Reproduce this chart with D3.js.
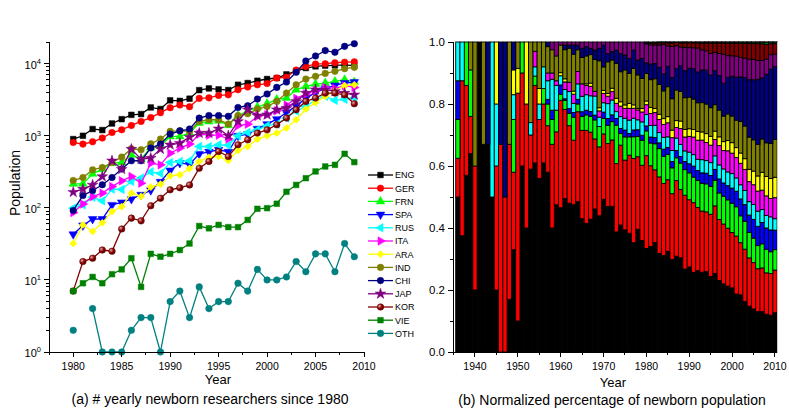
<!DOCTYPE html>
<html><head><meta charset="utf-8">
<script src="https://cdn.jsdelivr.net/npm/d3@7"></script>
<style>
body{margin:0;background:#fff;}
svg text{font-family:"Liberation Sans",Arial,Helvetica,sans-serif;fill:#000;}
</style>
</head><body>
<svg id="c" width="789" height="419" font-family="Liberation Sans, Arial, sans-serif"></svg>
<script>
// ---------- categories ----------
const countries = ["ENG","GER","FRN","SPA","RUS","ITA","ARA","IND","CHI","JAP","KOR","VIE","OTH"];
const colors = ["#000000","#ff0000","#00ff00","#0000ff","#00ffff","#ff00ff","#ffff00","#808000","#000080","#800080","#800000","#008000","#008080"];
const shapes = ["square","circle","triUp","triDown","triLeft","triRight","diamond","circle","circle","star","ball","square","circle"];

// ---------- panel (a): yearly newborn researchers ----------
const yearsA = [1980,1981,1982,1983,1984,1985,1986,1987,1988,1989,1990,1991,1992,1993,1994,1995,1996,1997,1998,1999,2000,2001,2002,2003,2004,2005,2006,2007,2008,2009];
const ENG = [900,1000,1240,1200,1480,1700,1950,2000,2470,2350,3100,3050,3270,4300,4540,4400,4310,5100,5390,5800,6130,6330,7110,7900,8710,9180,9400,9500,9600,9400];
const GER = [807,766,826,930,1110,1210,1390,1580,1790,2090,2450,2670,2530,3300,3360,3630,3700,4360,4740,5100,5300,6330,6490,8160,9180,9860,10000,10300,10500,10600];
const FRN = [215,215,296,344,417,426,545,474,689,726,979,979,1090,1500,1580,1620,1400,1900,2200,2500,2800,3200,3340,4360,4840,5220,5390,5690,6000,5560];
const SPA = [43,57,70,70,110,119,132,152,175,230,330,420,400,560,600,640,600,1000,1050,1250,1450,1700,2100,2600,3300,4000,4500,5000,5400,5560];
const RUS = [99,110,140,125,182,180,232,260,316,300,426,440,450,710,710,750,740,1000,1110,1210,1380,1450,1760,2200,2550,3160,3520,3100,3200,3340];
const ITA = [86,113,143,160,198,237,272,220,417,395,574,674,766,1055,1020,1020,900,1380,1450,1860,1960,2220,2670,3300,3800,4220,4690,4540,4950,4690];
const ARA = [32,58,47,62,89,104,160,144,194,213,278,287,352,440,500,516,454,625,710,900,1000,1090,1280,1670,2350,2900,3520,4220,4950,5100];
const IND = [240,263,337,363,426,506,661,640,774,900,1150,1170,1150,1580,1670,1670,1450,1910,2020,2350,2550,3000,3910,5100,6120,6670,7340,7830,8530,8900];
const CHI = [92,148,174,209,263,345,450,450,675,766,1055,1170,1240,1760,1910,1910,1860,2470,2610,3230,3800,4690,5560,7600,10900,12800,15200,14400,17400,18950];
const JAP = [165,182,208,272,450,344,653,474,490,653,750,790,957,1090,1090,1250,1000,1580,2300,1900,1960,2300,2400,3000,3910,4360,4360,4130,3910,3700];
const KOR = [7,18,20,26,25,51,72,66,107,136,178,190,208,355,440,605,516,750,880,1090,1210,1420,1760,2300,3000,3340,3910,3910,3700,2780];
const VIE = [7,9,11,9,12,14,20,8,23,21,23,26,32,56,52,58,54,54,68,97,99,114,167,208,258,320,375,395,562,431];
const OTH = [2,null,4,1,1,1,2,3,3,1,5,7,3,8,4,5,5,9,7,14,10,10,11,18,13,23,23,13,32,21];
const seriesA = {ENG,GER,FRN,SPA,RUS,ITA,ARA,IND,CHI,JAP,KOR,VIE,OTH};

// ---------- panel (b): shares (%) before 1980, and 2010 ----------
const yearsEarly = [1936,1937,1938,1939,1940,1941,1942,1943,1944,1945,1946,1947,1948,1949,1950,1951,1952,1953,1954,1955,1956,1957,1958,1959,1960,1961,1962,1963,1964,1965,1966,1967,1968,1969,1970,1971,1972,1973,1974,1975,1976,1977,1978,1979];
const shENG = [50,37.5,57,64,20,100,67,67,50,20,0,0,17,33,10,60,40,59,61,56,61,58,40,47.5,47,50,48,48,48.5,43,41.5,42,45,43.5,49,47,47,38.8,41,39.4,38.3,35.3,39.6,36];
const shGER = [12.5,50,29,12,40,0,0,0,0,40,67,50,50,25,73.5,30,40,11,25,19,19,15,27,23.5,35,29,25,21,29,28.5,30,27.5,22,22,21,20.3,21.4,22.1,25.8,22.5,25.2,27.2,23.4,24.3];
const shFRN = [12.5,0,14,15,0,0,0,0,0,0,0,0,0,17,0,10,0,0,3,0,5,7,8,7,2,3,4,7.5,2.5,4.5,5,5,6,6.5,5,5.9,5.9,12.4,3.8,7.5,5.9,7,6.5,8.1];
const shSPA = [12.5,0,0,0,0,0,0,0,0,0,0,0,0,0,0,0,0,0,0,0,0,1.5,3,0,3,0.5,1.5,1.5,1.5,1.5,1.5,1.5,1.5,0,2,2.2,2.2,2.2,1.6,2.2,1.1,2.2,2.2,1.6];
const shRUS = [12.5,12.5,0,0,0,0,0,0,50,20,0,0,0,8,0,0,0,4,3,5,7,6,10,8,3,3,5.5,3,5,5,5,5,6,3,3,4.8,4.8,2.2,3.8,3.8,4.3,3.8,3.2,4.3];
const shITA = [0,0,0,0,0,0,0,0,0,0,0,0,0,0,0,0,0,0,5,0,0,2.5,2,1.5,0,2.5,3,3,4,4,3,3,1.5,2,3,2.4,2.7,2.7,3.4,3.2,3.8,3.2,3.2,3.2];
const shARA = [0,0,0,0,0,0,0,0,0,20,0,0,0,8,8,0,20,0,0,5,0,0,0,0,1,1,0,1,0,0,0.5,1,0,1,1,0.9,1.1,1.6,1.4,1.1,1.6,1.1,0.5,1.1];
const shIND = [0,0,0,9,40,0,33,0,0,0,0,0,33,0,8.5,0,0,26,3,15,8,8.5,7.5,8,9,9.5,11,12,7,8.5,9,9,10,15,7.5,10.2,9.1,11.3,9.7,11.3,9.7,11.8,10.8,9.7];
const shCHI = [0,0,0,0,0,0,0,33,0,0,33,50,0,9,0,0,0,0,0,0,0,1.5,0,0,0,1.5,1,3,1.5,3,3,2,3,4,7,2.7,2.7,4.3,5.9,4.8,4.8,5.9,4.8,6.5];
const shJAP = [0,0,0,0,0,0,0,0,0,0,0,0,0,0,0,0,0,0,0,0,0,0,2.5,4.5,1,1,1,1,1,2,1.5,2,2.5,2,1,3.7,3.1,2.6,3.7,4.2,5.3,2.6,5.8,5.3];
const earlyShares = {ENG:shENG,GER:shGER,FRN:shFRN,SPA:shSPA,RUS:shRUS,ITA:shITA,ARA:shARA,IND:shIND,CHI:shCHI,JAP:shJAP};
const year2010 = 2010;
const share2010 = [12.7,13.8,6.6,6.3,3.7,6.8,6.6,12.3,23.5,4.0,3.4,0.5,0.03];

// ---------- tick labels ----------
const xTicksA = [1980,1985,1990,1995,2000,2005,2010];
const xMinorA = [1977.5,1982.5,1987.5,1992.5,1997.5,2002.5,2007.5];
const yExpA = [0,1,2,3,4];
const xTicksB = [1940,1950,1960,1970,1980,1990,2000,2010];
const xMinorB = [1935,1945,1955,1965,1975,1985,1995,2005];
const yTicksB = [0,0.2,0.4,0.6,0.8,1.0];
const yMinorB = [0.1,0.3,0.5,0.7,0.9];

const svg = d3.select("#c");
const defs = svg.append("defs");
const grad = defs.append("radialGradient").attr("id","ball").attr("cx","35%").attr("cy","35%").attr("r","65%");
grad.append("stop").attr("offset","0%").attr("stop-color","#e0b0b0");
grad.append("stop").attr("offset","55%").attr("stop-color","#900000");
grad.append("stop").attr("offset","100%").attr("stop-color","#600000");

// ================= PANEL A =================
const xL = d3.scaleLinear().domain([1977.5, 2010]).range([49, 364]);
const yL = d3.scaleLog().domain([1, 20000]).range([352, 42]);
const gA = svg.append("g");

function symPath(shape){
  switch(shape){
    case "square": return d3.symbol(d3.symbolSquare, 32)();
    case "circle": case "ball": return d3.symbol(d3.symbolCircle, 34)();
    case "diamond": return d3.symbol(d3.symbolSquare, 26)();
    case "star": return d3.symbol(d3.symbolStar, 36)();
    default: return d3.symbol(d3.symbolTriangle, 32)();
  }
}
function symRot(shape){
  return {triDown:180, triLeft:-90, triRight:90, diamond:45}[shape] || 0;
}
function drawMarker(g, shape, color, x, y){
  g.append("path").attr("d", symPath(shape))
    .attr("transform", `translate(${x},${y}) rotate(${symRot(shape)})`)
    .attr("fill", shape==="ball" ? "url(#ball)" : color)
    .attr("stroke", shape==="ball" ? "#600000" : color).attr("stroke-width", 0.5);
}

countries.forEach((c, ci) => {
  const pts = yearsA.map((yr,i)=>({yr, v: seriesA[c][i]}));
  const line = d3.line().defined(d => d.v != null && d.v > 0)
    .x(d => xL(d.yr)).y(d => yL(d.v));
  gA.append("path").datum(pts).attr("d", line)
    .attr("fill","none").attr("stroke", colors[ci]).attr("stroke-width", 1.3);
  const gm = gA.append("g");
  pts.filter(d => d.v != null && d.v > 0).forEach(d => drawMarker(gm, shapes[ci], colors[ci], xL(d.yr), yL(d.v)));
});

// axes A
const axA = gA.append("g").attr("stroke","#000").attr("shape-rendering","crispEdges");
axA.append("line").attr("x1",49).attr("x2",49).attr("y1",42).attr("y2",352);
axA.append("line").attr("x1",49).attr("x2",364).attr("y1",352).attr("y2",352);
xTicksA.forEach(t => axA.append("line").attr("x1",xL(t)).attr("x2",xL(t)).attr("y1",352).attr("y2",357));
xMinorA.forEach(t => axA.append("line").attr("x1",xL(t)).attr("x2",xL(t)).attr("y1",352).attr("y2",355));
yExpA.forEach(e => axA.append("line").attr("x1",44).attr("x2",49).attr("y1",yL(Math.pow(10,e))).attr("y2",yL(Math.pow(10,e))));
yExpA.forEach(e => { for (let m=2;m<=9;m++){ const v=m*Math.pow(10,e); if (v<=20000) axA.append("line").attr("x1",46).attr("x2",49).attr("y1",yL(v)).attr("y2",yL(v)); } });
xTicksA.forEach(t => gA.append("text").attr("x",xL(t)).attr("y",370).attr("text-anchor","middle").attr("font-size","10.5px").text(t));
yExpA.forEach(e => {
  const t = gA.append("text").attr("x",41).attr("y",yL(Math.pow(10,e))+5).attr("text-anchor","end").attr("font-size","11px");
  t.append("tspan").text("10");
  t.append("tspan").attr("dy",-5).attr("font-size","7.5px").text(e);
});
gA.append("text").attr("transform","translate(20,183) rotate(-90)").attr("text-anchor","middle").attr("font-size","14px").text("Population");
gA.append("text").attr("x",218).attr("y",384).attr("text-anchor","middle").attr("font-size","13px").text("Year");
gA.append("text").attr("x",210).attr("y",404).attr("text-anchor","middle").attr("font-size","14px").text("(a) # yearly newborn researchers since 1980");

// legend
const lg = svg.append("g");
countries.forEach((c, ci) => {
  const y = 175 + ci*13.2;
  lg.append("line").attr("x1",368).attr("x2",393).attr("y1",y).attr("y2",y).attr("stroke",colors[ci]).attr("stroke-width",1.3);
  drawMarker(lg, shapes[ci], colors[ci], 380.5, y);
  lg.append("text").attr("x",395).attr("y",y+3.3).attr("font-size","9px").text(c);
});

// ================= PANEL B =================
const xR = d3.scaleLinear().domain([1934.87, 2010.47]).range([453, 777]);
const yR = d3.scaleLinear().domain([0, 1]).range([352, 42]);
const rows = [];
yearsEarly.forEach((yr,i) => { const r = {year: yr}; countries.forEach(c => r[c] = earlyShares[c] ? earlyShares[c][i] : 0); rows.push(r); });
yearsA.forEach((yr,i) => { const r = {year: yr}; countries.forEach(c => r[c] = seriesA[c][i] || 0); rows.push(r); });
{ const r = {year: year2010}; countries.forEach((c,ci) => r[c] = share2010[ci]); rows.push(r); }

const stack = d3.stack().keys(countries).offset(d3.stackOffsetExpand);
const layers = stack(rows);
const bw = xR(1) - xR(0);
const gB = svg.append("g");
layers.forEach((layer, li) => {
  gB.append("g").selectAll("rect").data(layer.filter(d => d[1]-d[0] > 0)).join("rect")
    .attr("x", d => xR(d.data.year) - bw/2)
    .attr("width", bw)
    .attr("y", d => yR(d[1]))
    .attr("height", d => yR(d[0]) - yR(d[1]))
    .attr("fill", colors[li])
    .attr("stroke", "#000").attr("stroke-width", 0.9);
});
gB.append("line").attr("x1",777.5).attr("x2",777.5).attr("y1",42).attr("y2",352).attr("stroke","#c8c8c8");

const axB = gB.append("g").attr("stroke","#000").attr("shape-rendering","crispEdges");
axB.append("line").attr("x1",453).attr("x2",453).attr("y1",42).attr("y2",352);
axB.append("line").attr("x1",453).attr("x2",777).attr("y1",352).attr("y2",352);
yTicksB.forEach(t => axB.append("line").attr("x1",448).attr("x2",453).attr("y1",yR(t)).attr("y2",yR(t)));
yMinorB.forEach(t => axB.append("line").attr("x1",450).attr("x2",453).attr("y1",yR(t)).attr("y2",yR(t)));
xTicksB.forEach(t => axB.append("line").attr("x1",xR(t)).attr("x2",xR(t)).attr("y1",352).attr("y2",357));
xMinorB.forEach(t => axB.append("line").attr("x1",xR(t)).attr("x2",xR(t)).attr("y1",352).attr("y2",355));
yTicksB.forEach(t => gB.append("text").attr("x",445).attr("y",yR(t)+4).attr("text-anchor","end").attr("font-size","11.5px").text(t.toFixed(1)));
xTicksB.forEach(t => gB.append("text").attr("x",xR(t)).attr("y",370).attr("text-anchor","middle").attr("font-size","10.5px").text(t));
gB.append("text").attr("x",613).attr("y",387).attr("text-anchor","middle").attr("font-size","13px").text("Year");
gB.append("text").attr("x",612).attr("y",405).attr("text-anchor","middle").attr("font-size","14px").text("(b) Normalized percentage of newborn population");
</script>
</body></html>
